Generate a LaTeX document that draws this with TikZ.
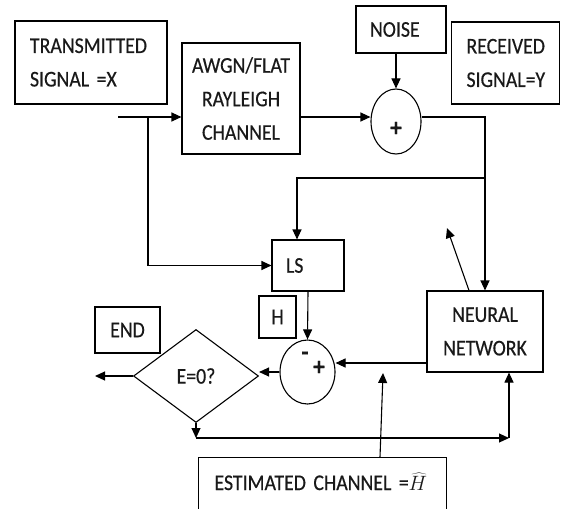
\documentclass[tikz,border=0pt]{standalone}
\usepackage{fontspec}
\setmainfont{Carlito}[FakeStretch=0.88,FakeBold=0.4]
\usetikzlibrary{arrows.meta,shapes.geometric}
\begin{document}
\begin{tikzpicture}[x=1pt,y=-1pt,
  every node/.style={font=\fontsize{22.5}{33.5}\selectfont, text=black!90},
  bx/.style={draw, line width=1.1pt, inner sep=0pt, align=center},
  lbx/.style={draw, line width=1.1pt, inner ysep=0pt, align=left},
  sgn/.style={font=\fontsize{26}{30}\selectfont\bfseries, inner sep=0pt},
  arr/.style={line width=1.1pt, -{Triangle[length=10pt,width=9pt]}}]
\clip (0,0) rectangle (561,508);
\fill[white] (0,0) rectangle (561,508);
% boxes
\node[lbx, inner xsep=15pt, text width=122pt, minimum height=83pt] (tx) at (91,62.5) {TRANSMITTED\\SIGNAL =X};
\node[bx, minimum width=118pt, minimum height=111pt] (awgn) at (241,98.5) {AWGN/FLAT\\RAYLEIGH\\CHANNEL};
\node[lbx, inner xsep=14pt, text width=62pt, minimum height=47pt] (noise) at (401,29.5) {NOISE};
\node[lbx, inner xsep=15pt, text width=78pt, minimum height=82pt] (rx) at (505.5,63) {RECEIVED\\SIGNAL=Y};
\node[draw, ellipse, line width=1.1pt, minimum width=50pt, minimum height=65pt, inner sep=0pt] (sum1) at (396,121.5) {};
\node[sgn] (plus1) at (396,129) {+};
\node[lbx, inner xsep=14pt, text width=44pt, minimum height=51pt] (ls) at (308,265.5) {LS};
\node[bx, minimum width=37pt, minimum height=42pt] (h) at (277.5,317) {H};
\node[draw, ellipse, line width=1.1pt, minimum width=55pt, minimum height=64pt, inner sep=0pt] (sum2) at (307.5,372) {};
\node[sgn] (minus2) at (305,356) {-};
\node[sgn] (plus2) at (319,368) {+};
\node[bx, minimum width=116pt, minimum height=81pt] (nn) at (485,331.5) {NEURAL\\NETWORK};
\node[draw, diamond, line width=1.1pt, minimum width=125pt, minimum height=93pt, inner sep=0pt] (d) at (196,376) {E=0?};
\node[bx, minimum width=65pt, minimum height=46pt] (end) at (127.5,330) {END};
\node[draw, line width=1.1pt, anchor=north west, inner xsep=16pt, inner ysep=0pt, text width=216pt, align=left, minimum height=70pt, text height=15pt, text depth=20pt] (est) at (198,457) {ESTIMATED CHANNEL =$\widehat{H}$};
% coordinates
\coordinate (in) at (118,117);
\coordinate (br) at (148,117);
\coordinate (j1) at (485,178);
\coordinate (fb) at (427,363);
\coordinate (out) at (95,376);
\coordinate (c1) at (196,438);
\coordinate (c2) at (509,438);
\coordinate (nnout) at (447,228);
\coordinate (esttip) at (383,373);
% connectors
\draw[arr] (in) -- (in -| awgn.west);
\draw[arr] (br) |- (ls.west);
\draw[arr] (awgn.east |- in) -- (sum1.west |- in);
\draw[arr] (noise.south -| sum1.north) -- (sum1.north);
\draw[arr] (sum1.east |- in) -| (nn.north);
\draw[arr] (j1) -| ([xshift=-11pt]ls.north);
\draw[arr] (ls.south) -- (sum2.north);
\draw[arr] (fb) -- (fb -| sum2.east);
\draw[arr] (sum2.west) -- (sum2.west -| d.east);
\draw[arr] (d.west) -- (out);
\draw[arr] (d.south) -- (c1);
\draw[arr] (c1) -- (c2);
\draw[arr] (c2) -- (c2 |- nn.south);
\draw[arr] ([xshift=-16pt]nn.north) -- (nnout);
\draw[arr] ([xshift=182pt]est.north west) -- (esttip);
\end{tikzpicture}
\end{document}
